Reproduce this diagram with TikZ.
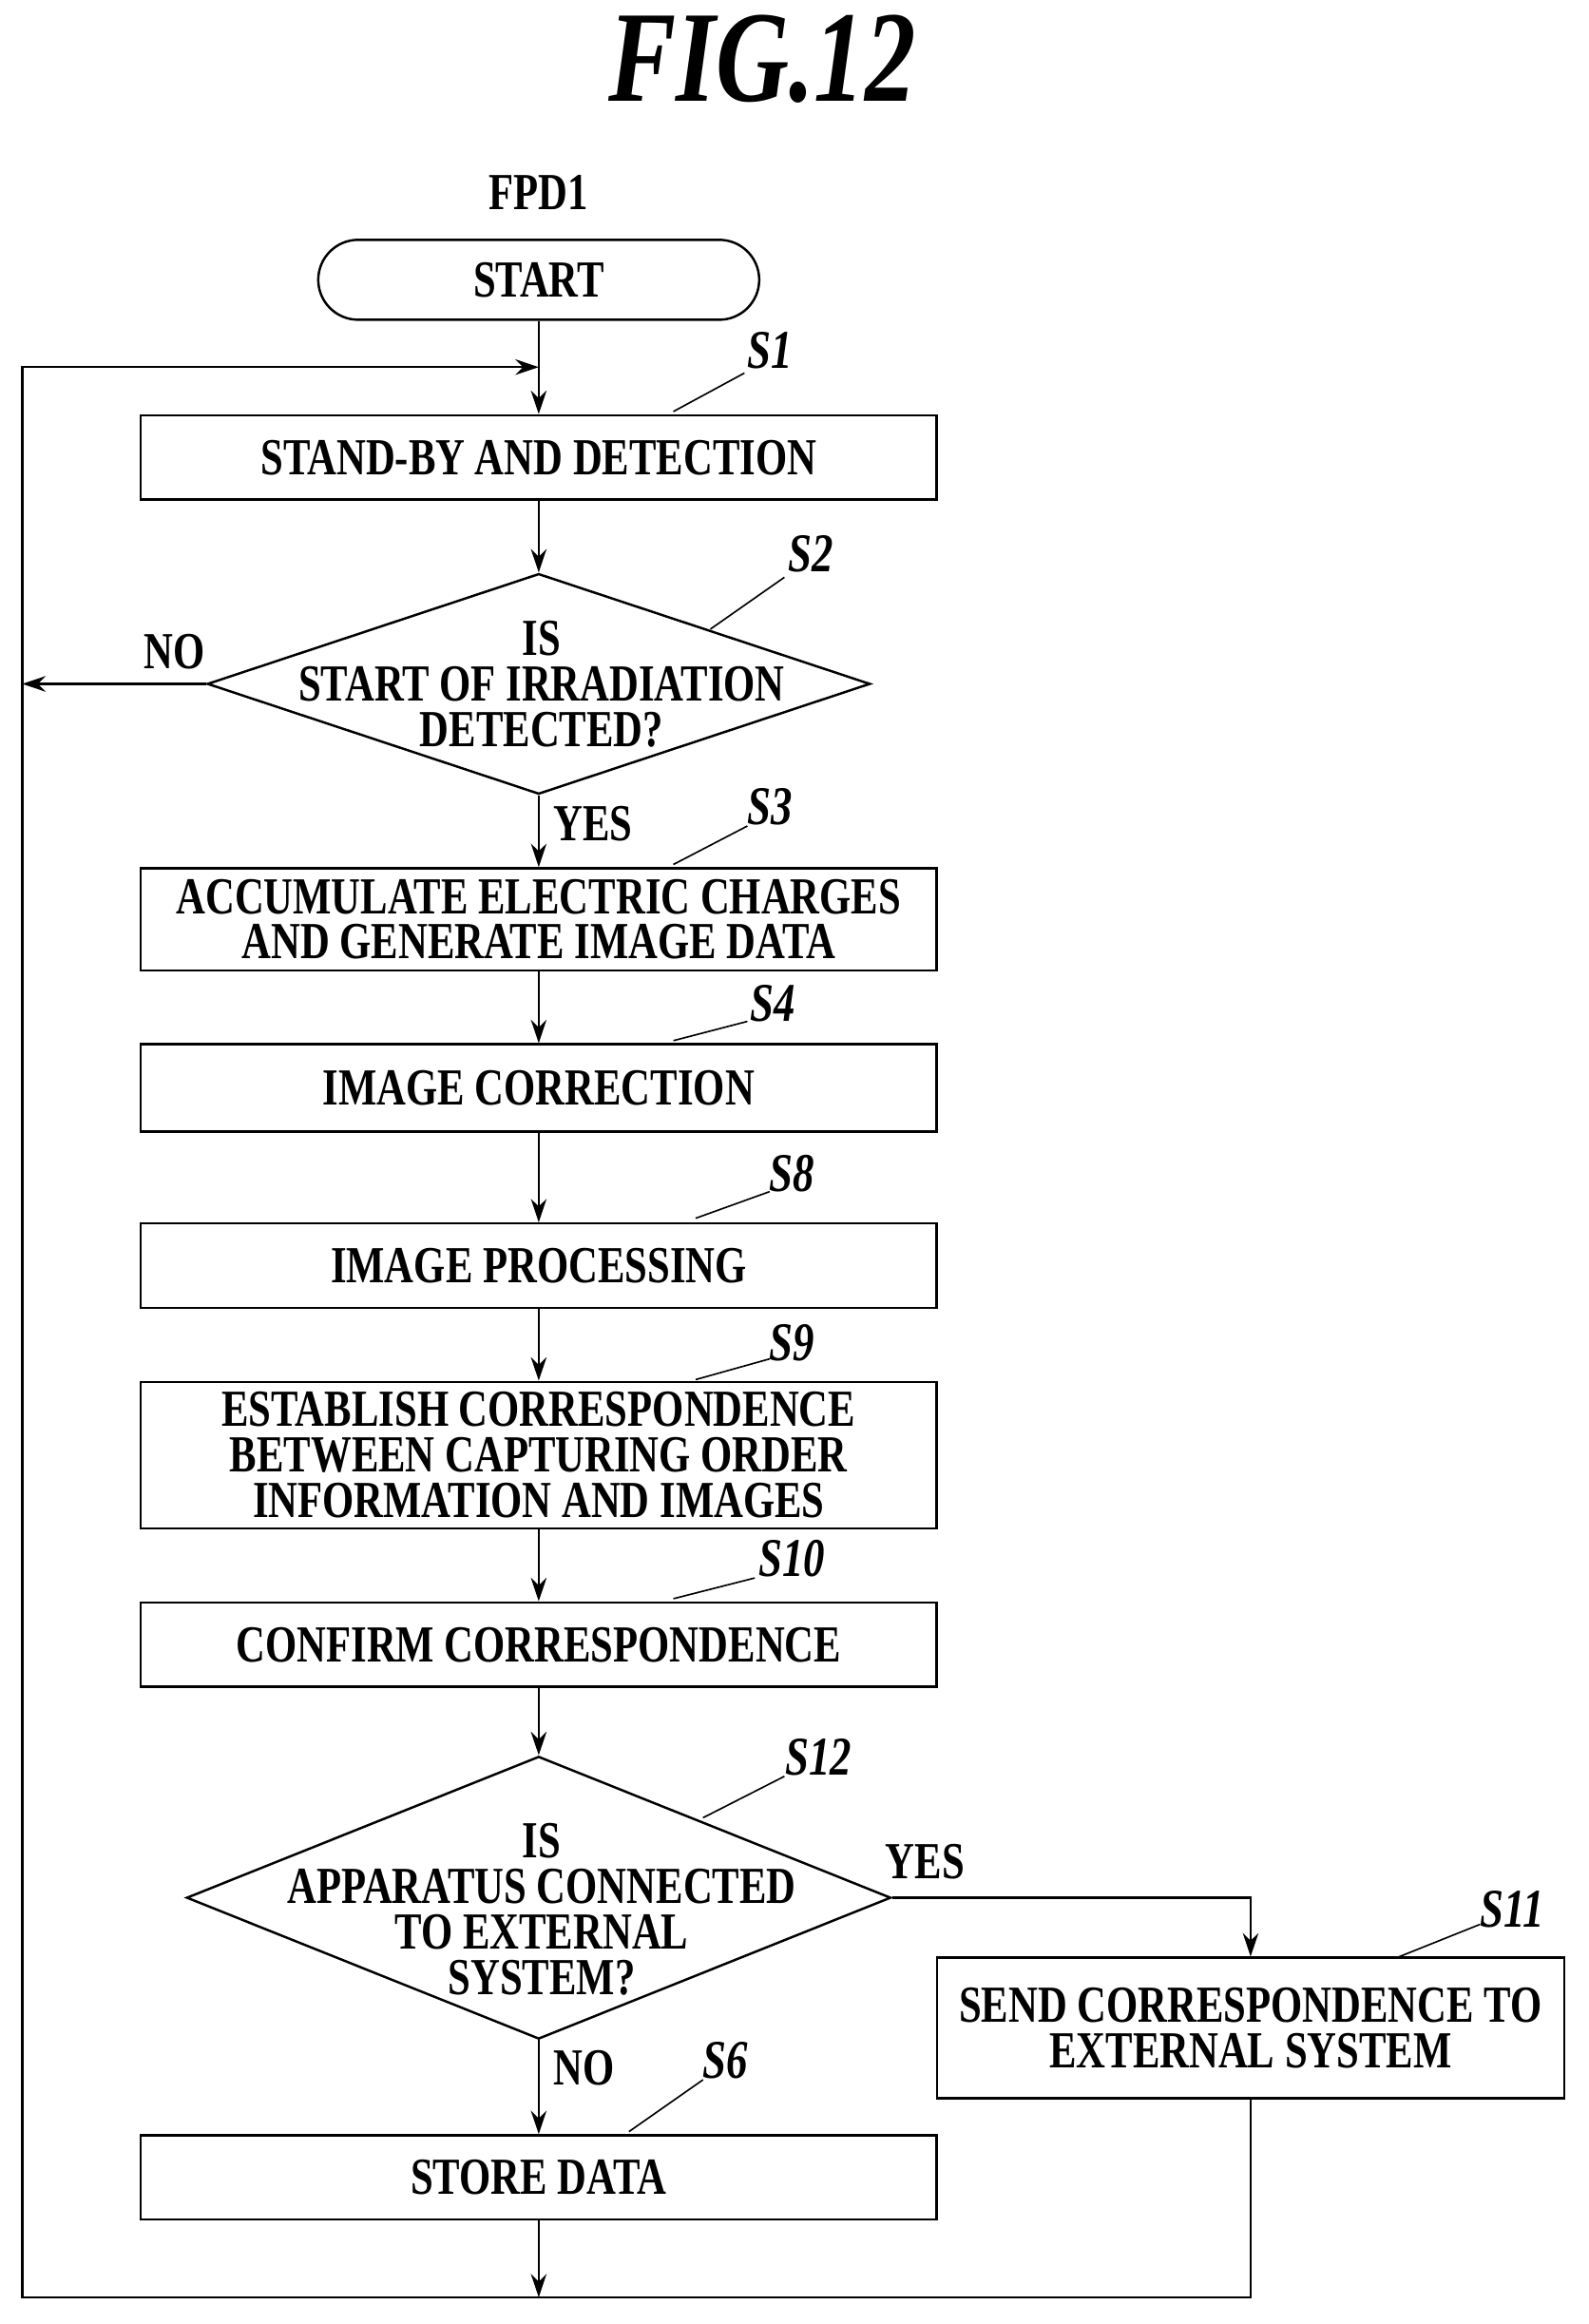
\documentclass[tikz,border=0pt]{standalone}
\usepackage{fontspec}
\setmainfont{Liberation Serif}[FakeStretch=0.78]
\usetikzlibrary{shapes.geometric,arrows.meta}
\begin{document}
\begin{tikzpicture}[x=0.02cm,y=-0.02cm,line width=0.9pt,
  step box/.style={rectangle,draw,minimum width=10.76cm,align=center,inner sep=0pt,font=\bfseries\fontsize{20}{17.5}\selectfont},
  dia/.style={diamond,draw,inner sep=0pt},
  txt/.style={align=center,font=\bfseries\fontsize{20}{17.5}\selectfont},
  tag/.style={font=\bfseries\itshape\fontsize{21}{21}\selectfont},
  flow/.style={-{Stealth[length=9pt,width=6pt]}}]
  \useasboundingbox (0,0) rectangle (1073,1570);
  \node[font=\bfseries\itshape\fontsize{50}{50}\selectfont] (title) at (515,40) {FIG.12};
  \node[txt] (fpd) at (364,130) {FPD1};
  \node[draw,rounded corners=0.54cm,minimum width=5.96cm,minimum height=1.08cm,txt] (start) at (364,189) {START};
  \node[step box,minimum height=1.14cm] (s1) at (364,309) {STAND-BY AND DETECTION};
  \node[dia,minimum width=8.96cm,minimum height=2.98cm] (s2) at (364,462) {};
  \node[txt] (s2t) at (366,462) {IS\\START OF IRRADIATION\\DETECTED?};
  \node[step box,minimum height=1.38cm] (s3) at (364,621) {ACCUMULATE ELECTRIC CHARGES\\AND GENERATE IMAGE DATA};
  \node[step box,minimum height=1.18cm] (s4) at (364,735) {IMAGE CORRECTION};
  \node[step box,minimum height=1.14cm] (s8) at (364,855) {IMAGE PROCESSING};
  \node[step box,minimum height=1.98cm] (s9) at (364,983) {ESTABLISH CORRESPONDENCE\\BETWEEN CAPTURING ORDER\\INFORMATION AND IMAGES};
  \node[step box,minimum height=1.14cm] (s10) at (364,1111) {CONFIRM CORRESPONDENCE};
  \node[dia,minimum width=9.52cm,minimum height=3.82cm] (s12) at (364,1282) {};
  \node[txt] (s12t) at (366,1290) {IS\\APPARATUS CONNECTED\\TO EXTERNAL\\SYSTEM?};
  \node[step box,minimum width=8.48cm,minimum height=1.9cm] (s11) at (845,1370) {SEND CORRESPONDENCE TO\\EXTERNAL SYSTEM};
  \node[step box,minimum height=1.14cm] (s6) at (364,1471) {STORE DATA};
  \coordinate (join) at (364,248);
  \coordinate (nol) at (15,462);
  \coordinate (bot) at (364,1552);
  \coordinate (yesc) at (845,1282);
  % connectors
  \draw[flow] (start) -- (s1);
  \draw[flow] (s1) -- (s2);
  \draw[flow] (s2) -- (s3) node[txt,pos=0.4,right=2pt] (yes1) {YES};
  \draw[flow] (s2) -- (nol);
  \node[txt] (no1) at (118,440) {NO};
  \draw[flow] (s3) -- (s4);
  \draw[flow] (s4) -- (s8);
  \draw[flow] (s8) -- (s9);
  \draw[flow] (s9) -- (s10);
  \draw[flow] (s10) -- (s12);
  \draw[flow] (s12) -- (s6) node[txt,pos=0.3,right=2pt] (no2) {NO};
  \draw[flow] (s12.east) -- (yesc) -- (s11);
  \node[txt] (yes2) at (625,1258) {YES};
  \draw[flow] (s6) -- (bot);
  \draw[flow] (s11.south) |- (15,1552) -- (15,248) -- (join);
  % step tags
  \foreach \n/\p/\a/\b in {S1/{520,237}/{455,278}/{503,252},S2/{548,374}/{480,425}/{530,390},
      S3/{520,545}/{455,584}/{505,558},S4/{522,678}/{455,703}/{505,690},
      S8/{535,793}/{470,823}/{520,805},S9/{535,907}/{470,932}/{520,918},
      S10/{535,1053}/{455,1080}/{510,1066},S12/{553,1187}/{475,1228}/{530,1200},
      S11/{1022,1290}/{945,1322}/{1000,1300},S6/{490,1392}/{425,1440}/{475,1405}} {
    \node[tag] (t\n) at (\p) {\n};
    \draw[line width=0.6pt] (\a) -- (\b);
  }
\end{tikzpicture}
\end{document}
